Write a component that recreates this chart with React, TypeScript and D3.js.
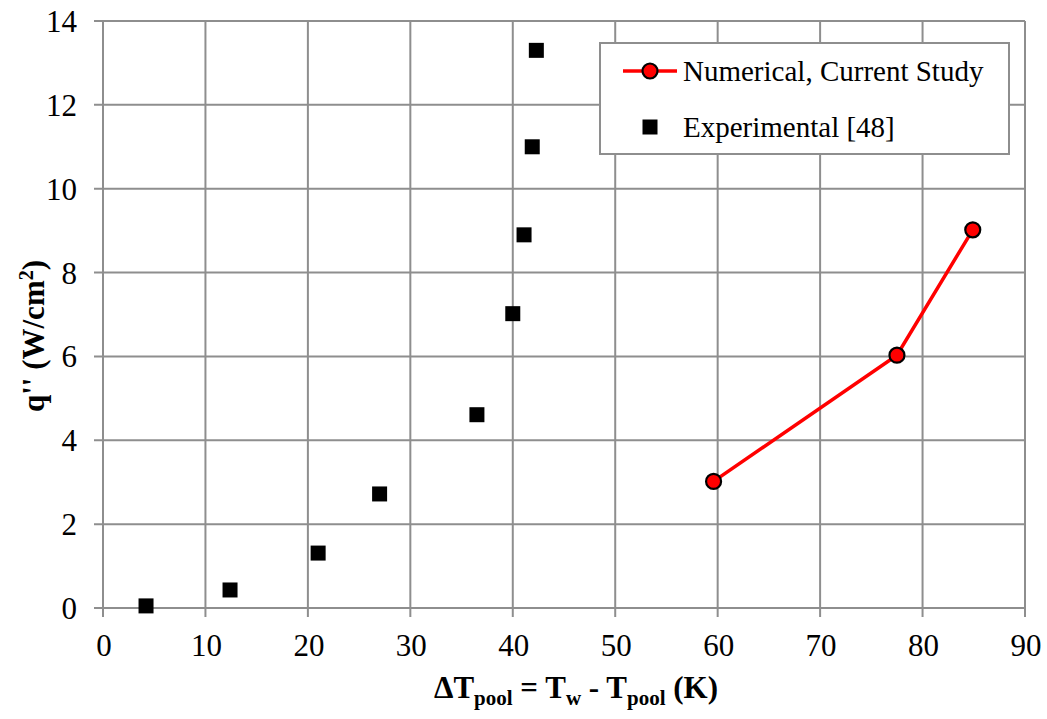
import React from "react";
import * as d3 from "d3";

// Experimental data [48]
const expDeltaT = [4.2, 12.4, 21.0, 27.0, 36.5, 40.0, 41.1, 41.9, 42.3];
const expFlux = [0.05, 0.43, 1.31, 2.72, 4.61, 7.02, 8.9, 11.0, 13.3];

// Numerical results of the current study
const numDeltaT = [59.6, 77.5, 84.9];
const numFlux = [3.02, 6.03, 9.02];

const xTicks = [0, 10, 20, 30, 40, 50, 60, 70, 80, 90];
const yTicks = [0, 2, 4, 6, 8, 10, 12, 14];

const W = 1047;
const H = 719;
const M = { left: 103, right: 1025, top: 21, bottom: 608 };
const FONT = '"Liberation Serif", "Times New Roman", Times, serif';
const GRID = "#8e8e8e";

export default function App() {
  const x = d3.scaleLinear().domain([0, 90]).range([M.left, M.right]);
  const y = d3.scaleLinear().domain([0, 14]).range([M.bottom, M.top]);

  const line = d3
    .line<number>()
    .x((_, i) => x(numDeltaT[i]))
    .y((d) => y(d));

  const sq = 15;
  const txt = { fontFamily: FONT };

  return (
    <svg
      width={W}
      height={H}
      style={{ position: "absolute", left: 0, top: 0, background: "#fff", fontFamily: FONT }}
    >
      {/* grid */}
      {xTicks.map((t) => (
        <line
          key={"gx" + t}
          x1={x(t)}
          x2={x(t)}
          y1={M.top}
          y2={M.bottom + 9}
          stroke={GRID}
          strokeWidth={2}
        />
      ))}
      {yTicks.map((t) => (
        <line
          key={"gy" + t}
          x1={M.left - 9}
          x2={M.right}
          y1={y(t)}
          y2={y(t)}
          stroke={GRID}
          strokeWidth={2}
        />
      ))}

      {/* tick labels */}
      {xTicks.map((t) => (
        <text
          key={"tx" + t}
          x={x(t) + 1}
          y={656}
          fontSize={31}
          textAnchor="middle"
          fill="#000"
          style={txt}
        >
          {t}
        </text>
      ))}
      {yTicks.map((t) => (
        <text
          key={"ty" + t}
          x={77}
          y={y(t) + 11}
          fontSize={31}
          textAnchor="end"
          fill="#000"
          style={txt}
        >
          {t}
        </text>
      ))}

      {/* axis titles */}
      <text
        x={576}
        y={698}
        fontSize={31}
        fontWeight="bold"
        textAnchor="middle"
        fill="#000"
        style={txt}
      >
        ΔT<tspan fontSize={21} dy={7}>pool</tspan>
        <tspan dy={-7}> = T</tspan>
        <tspan fontSize={21} dy={7}>w</tspan>
        <tspan dy={-7}> - T</tspan>
        <tspan fontSize={21} dy={7}>pool</tspan>
        <tspan dy={-7}> (K)</tspan>
      </text>
      <text
        transform={`translate(44,336) rotate(-90)`}
        fontSize={31}
        fontWeight="bold"
        textAnchor="middle"
        fill="#000"
        style={txt}
      >
        q'' (W/cm<tspan fontSize={20} dy={-11}>2</tspan>
        <tspan dy={11}>)</tspan>
      </text>

      {/* experimental markers */}
      {expFlux.map((v, i) => (
        <rect
          key={"e" + i}
          x={x(expDeltaT[i]) - sq / 2}
          y={y(v) - sq / 2}
          width={sq}
          height={sq}
          fill="#000"
        />
      ))}

      {/* numerical series */}
      <path d={line(numFlux) ?? ""} fill="none" stroke="#ff0000" strokeWidth={3.5} />
      {numFlux.map((v, i) => (
        <circle
          key={"n" + i}
          cx={x(numDeltaT[i])}
          cy={y(v)}
          r={7.5}
          fill="#ff0000"
          stroke="#000"
          strokeWidth={2.2}
        />
      ))}

      {/* legend */}
      <rect x={600} y={43} width={409} height={111} fill="#fff" stroke={GRID} strokeWidth={2} />
      <line x1={623} x2={677} y1={71} y2={71} stroke="#ff0000" strokeWidth={3.5} />
      <circle cx={650} cy={71} r={7.5} fill="#ff0000" stroke="#000" strokeWidth={2.2} />
      <text x={683} y={81} fontSize={29} fill="#000" style={txt}>
        Numerical, Current Study
      </text>
      <rect x={650 - sq / 2} y={127 - sq / 2} width={sq} height={sq} fill="#000" />
      <text x={683} y={137} fontSize={29} fill="#000" style={txt}>
        Experimental [48]
      </text>
    </svg>
  );
}
